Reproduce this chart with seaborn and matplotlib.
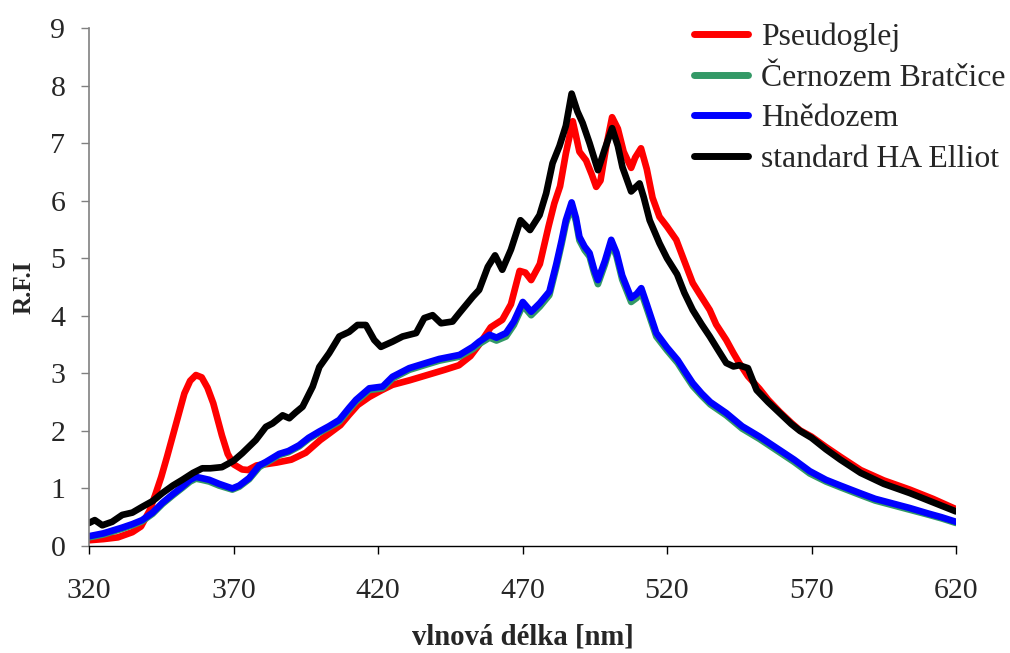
import numpy as np
import pandas as pd
import seaborn as sns
import matplotlib
matplotlib.use("Agg")
import matplotlib.pyplot as plt

# ---------------- data ----------------
series_names = ["Pseudoglej", "Černozem Bratčice", "Hnědozem", "standard HA Elliot"]
series_colors = ["#FF0000", "#339966", "#0000FF", "#000000"]

red_wl = [320, 325, 330, 335, 338, 341, 343, 345, 347, 350, 353, 355, 357, 359, 361, 363, 366, 368,
          370, 373, 375, 378, 381, 385, 390, 395, 400, 403, 407, 410, 413, 417, 421, 425, 431, 437,
          443, 448, 452, 455, 459, 463, 466, 469, 471, 473, 476, 479, 481, 483, 485, 487.4, 489.7,
          492, 494, 495.5, 497, 499, 501, 503, 505, 507.6, 509, 511, 513, 515, 517.4, 520, 523.2,
          526, 528.9, 531, 534.8, 537, 540.5, 543, 545, 548, 552, 555, 559, 563, 566, 570, 575,
          580, 587, 595, 604, 612, 620]
red_val = [0.10, 0.12, 0.15, 0.24, 0.34, 0.62, 0.90, 1.20, 1.55, 2.10, 2.65, 2.87, 2.97, 2.93, 2.75,
           2.48, 1.92, 1.60, 1.42, 1.33, 1.32, 1.40, 1.42, 1.45, 1.50, 1.62, 1.84, 1.95, 2.10, 2.28,
           2.45, 2.59, 2.70, 2.80, 2.88, 2.97, 3.06, 3.14, 3.30, 3.50, 3.80, 3.93, 4.20, 4.78, 4.75,
           4.62, 4.90, 5.55, 5.95, 6.25, 6.82, 7.38, 6.85, 6.70, 6.45, 6.24, 6.35, 6.95, 7.45, 7.25,
           6.85, 6.57, 6.75, 6.91, 6.55, 6.05, 5.72, 5.55, 5.32, 4.95, 4.57, 4.40, 4.10, 3.85, 3.58,
           3.35, 3.18, 2.95, 2.73, 2.54, 2.33, 2.14, 2.01, 1.90, 1.72, 1.55, 1.32, 1.14, 0.98, 0.82,
           0.64]

blue_wl = [320, 325, 331.5, 335, 338.4, 342, 345.4, 349, 352.3, 355, 357, 359, 361.6, 365, 369.6,
           372, 375.4, 378.9, 381.2, 385.8, 389, 392.7, 396, 399.7, 403, 406.6, 410, 412.4, 417,
           421.6, 425, 430.8, 436.6, 441.2, 448.2, 452.8, 455, 458.6, 461, 464.3, 467, 470.1, 473,
           476, 479.3, 481.7, 483.5, 485, 487, 488.5, 489.7, 491.5, 493.2, 494.8, 496.1, 498.5,
           500.7, 502.5, 504.5, 507.6, 509.5, 511.1, 513, 516.3, 520, 523.7, 526, 528.9, 532, 535,
           540.5, 546, 552, 558, 564, 569.4, 575, 580, 586.7, 592, 598, 604, 610, 615, 620]
blue_val = [0.17, 0.22, 0.32, 0.38, 0.45, 0.58, 0.75, 0.90, 1.03, 1.15, 1.20, 1.18, 1.15, 1.08, 1.00,
            1.05, 1.18, 1.40, 1.46, 1.60, 1.65, 1.75, 1.88, 1.99, 2.08, 2.19, 2.40, 2.54, 2.74,
            2.77, 2.94, 3.09, 3.18, 3.25, 3.32, 3.46, 3.55, 3.67, 3.62, 3.70, 3.90, 4.24, 4.07,
            4.22, 4.42, 4.90, 5.30, 5.66, 5.97, 5.70, 5.37, 5.20, 5.09, 4.80, 4.62, 4.95, 5.32,
            5.10, 4.70, 4.31, 4.38, 4.48, 4.20, 3.70, 3.45, 3.23, 3.05, 2.83, 2.65, 2.50, 2.31,
            2.08, 1.90, 1.70, 1.50, 1.30, 1.15, 1.05, 0.92, 0.82, 0.74, 0.66, 0.57, 0.50, 0.42]
green_val = [0.15, 0.20, 0.30, 0.36, 0.43, 0.56, 0.73, 0.88, 1.01, 1.12, 1.17, 1.15, 1.12, 1.05, 0.98,
             1.03, 1.16, 1.37, 1.44, 1.58, 1.63, 1.73, 1.86, 1.97, 2.06, 2.16, 2.37, 2.51, 2.71,
             2.74, 2.91, 3.06, 3.15, 3.22, 3.29, 3.42, 3.51, 3.62, 3.57, 3.64, 3.84, 4.18, 4.01,
             4.16, 4.36, 4.84, 5.24, 5.60, 5.91, 5.64, 5.31, 5.14, 5.03, 4.74, 4.55, 4.89, 5.26,
             5.04, 4.63, 4.24, 4.31, 4.41, 4.13, 3.64, 3.40, 3.18, 3.00, 2.78, 2.61, 2.46, 2.27,
             2.04, 1.86, 1.66, 1.46, 1.26, 1.12, 1.02, 0.89, 0.79, 0.71, 0.63, 0.55, 0.48, 0.40]

black_wl = [320, 322, 324.6, 328, 331.5, 335, 338.4, 342, 345.4, 349, 352.3, 356, 359.2, 362, 366,
            370, 373, 377.7, 381.2, 383.5, 387, 389.3, 391.5, 393.9, 397.4, 399.7, 403.1, 406.6,
            410, 412.9, 415.8, 418.7, 421, 425, 428.5, 433.2, 436, 438.9, 441.8, 445.8, 448.2,
            452.8, 455, 458, 460.5, 463, 466, 469.3, 472.6, 475.9, 478.2, 480.4, 482.8, 485, 487,
            489, 490.8, 493.2, 496.1, 498.5, 501, 503, 504.6, 507.6, 510.5, 512, 514, 517.4, 520,
            523.5, 526, 528.9, 532, 534.8, 537.5, 540.5, 543, 545, 548, 551, 555, 559, 563, 566,
            570, 575, 580, 587, 595, 604, 612, 620]
black_val = [0.40, 0.45, 0.36, 0.42, 0.54, 0.58, 0.68, 0.78, 0.92, 1.05, 1.15, 1.27, 1.35, 1.35, 1.37,
             1.48, 1.61, 1.84, 2.07, 2.13, 2.27, 2.22, 2.32, 2.42, 2.77, 3.11, 3.35, 3.64, 3.72,
             3.84, 3.84, 3.58, 3.46, 3.55, 3.64, 3.70, 3.96, 4.01, 3.87, 3.90, 4.05, 4.33, 4.45,
             4.85, 5.05, 4.80, 5.15, 5.66, 5.49, 5.75, 6.13, 6.65, 6.95, 7.30, 7.86, 7.55, 7.35,
             7.00, 6.53, 6.90, 7.26, 6.95, 6.58, 6.16, 6.30, 6.05, 5.66, 5.26, 5.00, 4.72, 4.40,
             4.10, 3.85, 3.64, 3.42, 3.18, 3.12, 3.14, 3.09, 2.71, 2.50, 2.31, 2.12, 2.00, 1.88,
             1.68, 1.50, 1.27, 1.08, 0.92, 0.76, 0.60]

x_ticks = [320, 370, 420, 470, 520, 570, 620]
y_ticks = [0, 1, 2, 3, 4, 5, 6, 7, 8, 9]

# ---------------- build long table ----------------
frames = [
    pd.DataFrame({"wl": red_wl, "rfi": red_val, "vzorek": series_names[0]}),
    pd.DataFrame({"wl": blue_wl, "rfi": green_val, "vzorek": series_names[1]}),
    pd.DataFrame({"wl": blue_wl, "rfi": blue_val, "vzorek": series_names[2]}),
    pd.DataFrame({"wl": black_wl, "rfi": black_val, "vzorek": series_names[3]}),
]
df = pd.concat(frames, ignore_index=True)

sns.set_theme(style="white")
plt.rcParams["font.family"] = ["Liberation Serif", "DejaVu Serif"]

fig = plt.figure(figsize=(10.10, 6.53), dpi=100)
ax = fig.add_axes([89 / 1010, 1 - 546 / 653, (956 - 89) / 1010, (546 - 28) / 653])

sns.lineplot(data=df, x="wl", y="rfi", hue="vzorek", hue_order=series_names,
             palette=dict(zip(series_names, series_colors)), estimator=None, sort=True,
             linewidth=4.8, ax=ax, legend=False,
             solid_capstyle="round", solid_joinstyle="round")

ax.set_xlim(320, 620)
ax.set_ylim(0, 9)
ax.set_xticks(x_ticks)
ax.set_yticks(y_ticks)
ax.tick_params(axis="both", labelsize=21.5, direction="out", length=6, width=1,
               bottom=True, left=True)
ax.tick_params(axis="x", pad=17, color="black")
ax.tick_params(axis="y", pad=11, color="#808080")
for s in ["top", "right"]:
    ax.spines[s].set_visible(False)
ax.spines["left"].set_color("#808080")
ax.spines["left"].set_linewidth(1.2)
ax.spines["bottom"].set_color("black")
ax.spines["bottom"].set_linewidth(1.0)

ax.set_xlabel("vlnová délka [nm]", fontsize=20.7, fontweight="bold", labelpad=14)
ax.set_ylabel("R.F.I", fontsize=18, fontweight="bold", labelpad=11)

handles = [plt.Line2D([], [], color=c, linewidth=5, solid_capstyle="round") for c in series_colors]
fig.legend(handles, series_names, loc="upper left", bbox_to_anchor=(694 / 1010, 1 - 23 / 653),
           frameon=False, fontsize=22.9, handlelength=1.7, handletextpad=0.4,
           labelspacing=0.35, borderaxespad=0, borderpad=0)

fig.savefig("out.png", dpi=100)
